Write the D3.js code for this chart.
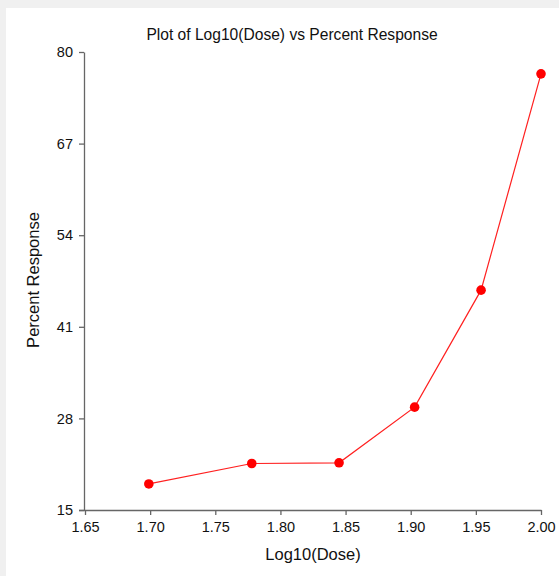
<!DOCTYPE html>
<html>
<head>
<meta charset="utf-8">
<script src="https://cdn.jsdelivr.net/npm/d3@7"></script>
<style>
  body { margin: 0; background: #f0f0f0; }
  svg { display: block; font-family: "Liberation Sans", Arial, sans-serif; }
</style>
</head>
<body>
<svg width="559" height="576"></svg>
<script>
// valores
const logDose = [1.699, 1.778, 1.845, 1.903, 1.954, 2.0];
const percentResponse = [18.7, 21.6, 21.7, 29.6, 46.2, 76.9];
const xTicks = [1.65, 1.70, 1.75, 1.80, 1.85, 1.90, 1.95, 2.00];
const yTicks = [15, 28, 41, 54, 67, 80];

const svg = d3.select("svg");

// panel blanco
svg.append("rect")
  .attr("x", 6).attr("y", 8)
  .attr("width", 553).attr("height", 568)
  .attr("fill", "#fff");

const x = d3.scaleLinear().domain([1.65, 2.0]).range([85, 541]);
const y = d3.scaleLinear().domain([15, 80]).range([510, 52]);

const axisColor = "#666";

const gx = svg.append("g")
  .attr("transform", "translate(0,510)")
  .call(d3.axisBottom(x).tickValues(xTicks).tickFormat(d3.format(".2f")).tickSize(5).tickSizeOuter(0));

const gy = svg.append("g")
  .attr("transform", "translate(84,0)")
  .call(d3.axisLeft(y).tickValues(yTicks).tickSize(5).tickSizeOuter(0));

[gx, gy].forEach(g => {
  g.attr("font-size", null).attr("font-family", null);
  g.select(".domain").attr("stroke", axisColor).attr("stroke-width", 1.3);
  g.selectAll(".tick line").attr("stroke", axisColor).attr("stroke-width", 1.3);
  g.selectAll(".tick text")
    .attr("fill", "#111")
    .style("font-size", "14.5px");
});
gx.selectAll(".tick text").attr("dy", "0.95em");
gy.selectAll(".tick text").attr("x", -11);
// prolongar el eje x hasta el tick izquierdo
gx.select(".domain").attr("d", "M79,0.5H541.5");

// línea y puntos
const data = logDose.map((d, i) => ({ x: d, y: percentResponse[i] }));

svg.append("path")
  .datum(data)
  .attr("fill", "none")
  .attr("stroke", "#ff2020")
  .attr("stroke-width", 1.2)
  .attr("d", d3.line().x(d => x(d.x)).y(d => y(d.y)));

svg.selectAll(".pt")
  .data(data)
  .enter().append("circle")
  .attr("class", "pt")
  .attr("cx", d => x(d.x))
  .attr("cy", d => y(d.y))
  .attr("r", 4.8)
  .attr("fill", "#ff0000");

// títulos
svg.append("text")
  .attr("x", 292).attr("y", 40)
  .attr("text-anchor", "middle")
  .attr("fill", "#111")
  .style("font-size", "15.6px")
  .text("Plot of Log10(Dose) vs Percent Response");

svg.append("text")
  .attr("x", 313).attr("y", 560)
  .attr("text-anchor", "middle")
  .attr("fill", "#111")
  .style("font-size", "16.5px")
  .text("Log10(Dose)");

svg.append("text")
  .attr("transform", "translate(39,280) rotate(-90)")
  .attr("text-anchor", "middle")
  .attr("fill", "#111")
  .style("font-size", "16.5px")
  .text("Percent Response");
</script>
</body>
</html>
